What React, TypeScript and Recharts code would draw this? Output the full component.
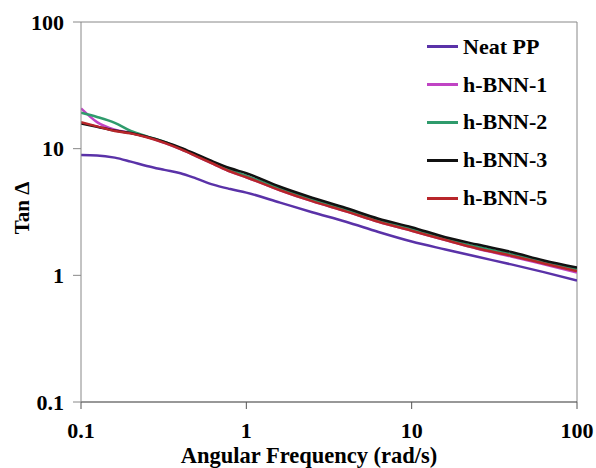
import React from 'react';
import {
  LineChart,
  Line,
  XAxis,
  YAxis,
  Legend,
  ReferenceLine,
} from 'recharts';

// angular frequency (rad/s), shared by every series
const freq = [0.1, 0.125, 0.16, 0.2, 0.25, 0.32, 0.4, 0.5, 0.63, 0.8, 1, 1.6, 2.5, 4, 6.3, 10, 16, 25, 40, 63, 100];

const neatPP = [8.9, 8.85, 8.5, 7.9, 7.3, 6.8, 6.4, 5.8, 5.2, 4.8, 4.5, 3.75, 3.15, 2.65, 2.2, 1.85, 1.6, 1.4, 1.22, 1.06, 0.91];
const bnn1 = [20.8, 16.2, 14.1, 13.3, 12.4, 11.1, 9.9, 8.7, 7.6, 6.6, 5.95, 4.7, 3.85, 3.2, 2.65, 2.25, 1.9, 1.62, 1.41, 1.22, 1.05];
const bnn2 = [19.2, 17.8, 16.0, 13.8, 12.5, 11.3, 10.0, 8.8, 7.7, 6.8, 6.1, 4.85, 3.95, 3.3, 2.72, 2.32, 1.95, 1.68, 1.47, 1.28, 1.12];
const bnn3 = [15.8, 14.9, 13.9, 13.3, 12.4, 11.3, 10.2, 9.0, 7.9, 7.0, 6.4, 5.0, 4.1, 3.4, 2.8, 2.4, 2.0, 1.75, 1.53, 1.31, 1.15];
const bnn5 = [16.2, 15.0, 13.8, 13.2, 12.3, 11.1, 9.9, 8.7, 7.6, 6.6, 5.95, 4.7, 3.85, 3.2, 2.65, 2.25, 1.9, 1.63, 1.43, 1.24, 1.08];

const xTicks = [0.1, 1, 10, 100];
const yTicks = [0.1, 1, 10, 100];

const series = [
  { key: 'neat', name: 'Neat PP', color: '#5a32a8', values: neatPP },
  { key: 'b1', name: 'h-BNN-1', color: '#c044c4', values: bnn1 },
  { key: 'b2', name: 'h-BNN-2', color: '#2f9b6c', values: bnn2 },
  { key: 'b3', name: 'h-BNN-3', color: '#111111', values: bnn3 },
  { key: 'b5', name: 'h-BNN-5', color: '#b8262a', values: bnn5 },
];

const data = freq.map((w, i) => {
  const row: Record<string, number> = { w };
  series.forEach((s) => {
    row[s.key] = s.values[i];
  });
  return row;
});

const font = 'Liberation Serif';
const tickStyle = { fontFamily: font, fontWeight: 700, fontSize: 22, fill: '#000' };

function LegendBox() {
  return (
    <div style={{ fontFamily: font, fontWeight: 700, fontSize: 22, color: '#000' }}>
      {series.map((s) => (
        <div key={s.key} style={{ height: 37.8, display: 'flex', alignItems: 'center' }}>
          <span
            style={{ display: 'inline-block', width: 31, height: 3, background: s.color, marginRight: 5 }}
          />
          <span style={{ lineHeight: 1, whiteSpace: 'nowrap' }}>{s.name}</span>
        </div>
      ))}
    </div>
  );
}

export default function App() {
  return (
    <div style={{ position: 'absolute', left: 0, top: 0, width: 596, height: 468, background: '#fff' }}>
      <LineChart width={596} height={468} data={data} margin={{ top: 22, right: 19, bottom: 0, left: 21 }}>
        <XAxis
          dataKey="w"
          type="number"
          scale="log"
          domain={[0.1, 100]}
          ticks={xTicks}
          allowDataOverflow
          height={66}
          tickSize={7}
          tickMargin={13}
          axisLine={{ stroke: '#333', strokeWidth: 1.2 }}
          tickLine={{ stroke: '#555' }}
          tick={tickStyle}
          tickFormatter={(v) => String(v)}
          label={{
            value: 'Angular Frequency (rad/s)',
            position: 'insideBottom',
            offset: 5,
            dx: -20,
            style: { fontFamily: font, fontWeight: 700, fontSize: 22.5, fill: '#000' },
          }}
        />
        <YAxis
          type="number"
          scale="log"
          domain={[0.1, 100]}
          ticks={yTicks}
          allowDataOverflow
          width={60}
          tickSize={8}
          tickMargin={9}
          axisLine={{ stroke: '#888' }}
          tickLine={{ stroke: '#888' }}
          tick={tickStyle}
          tickFormatter={(v) => String(v)}
          label={{
            value: 'Tan Δ',
            angle: -90,
            position: 'insideLeft',
            offset: 1,
            dy: -4,
            style: { textAnchor: 'middle', fontFamily: font, fontWeight: 700, fontSize: 21, fill: '#000' },
          }}
        />
        <ReferenceLine y={100} stroke="#888" />
        <ReferenceLine x={100} stroke="#888" />
        {series.map((s) => (
          <Line
            key={s.key}
            type="monotone"
            dataKey={s.key}
            name={s.name}
            stroke={s.color}
            strokeWidth={2.5}
            dot={false}
            isAnimationActive={false}
          />
        ))}
        <Legend
          layout="vertical"
          align="center"
          verticalAlign="middle"
          wrapperStyle={{ left: 427, top: 28, width: 150, height: 190 }}
          content={() => <LegendBox />}
        />
      </LineChart>
    </div>
  );
}
